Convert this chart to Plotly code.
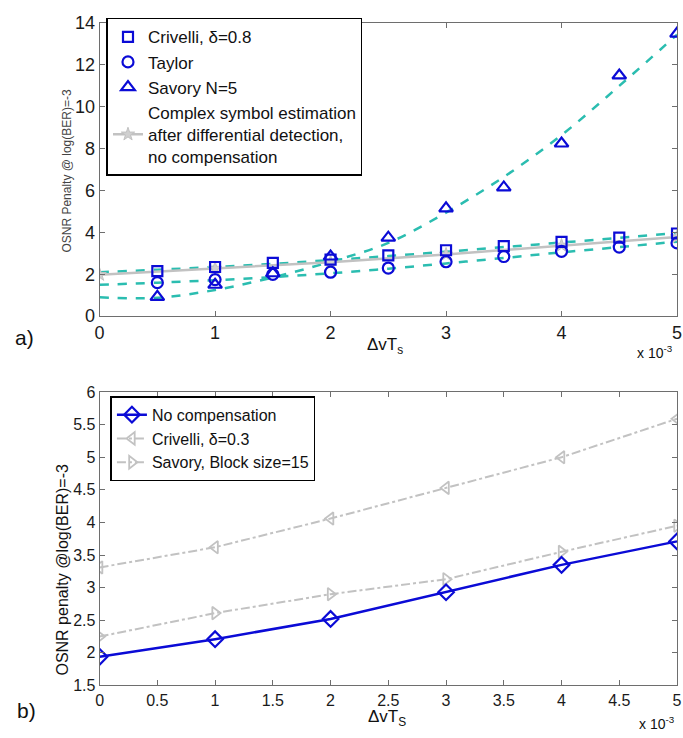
import plotly.graph_objects as go

# ---------------- panel a) data ----------------
x_meas = [0.5, 1.0, 1.5, 2.0, 2.5, 3.0, 3.5, 4.0, 4.5, 5.0]
crivelli_08 = [2.15, 2.35, 2.55, 2.7, 2.9, 3.15, 3.35, 3.55, 3.75, 3.95]
taylor = [1.6, 1.75, 2.0, 2.1, 2.3, 2.6, 2.85, 3.1, 3.3, 3.5]
savory_n5 = [0.92, 1.5, 2.05, 2.85, 3.75, 5.15, 6.15, 8.25, 11.5, 13.5]

x_cse = [0, 1, 2, 3, 4, 5]
cse_nocomp = [1.98, 2.28, 2.58, 2.95, 3.38, 3.78]

# dashed fitted curves
x_fit = [0.0, 0.5, 1.0, 1.5, 2.0, 2.5, 3.0, 3.5, 4.0, 4.5, 5.0]
fit_crivelli = [2.1, 2.22, 2.35, 2.5, 2.68, 2.87, 3.08, 3.3, 3.52, 3.74, 3.97]
fit_taylor = [1.5, 1.6, 1.72, 1.87, 2.05, 2.27, 2.52, 2.78, 3.05, 3.3, 3.56]
fit_savory = [0.9, 0.88, 1.25, 1.85, 2.6, 3.5, 4.95, 6.65, 8.65, 11.0, 13.45]

# ---------------- panel b) data ----------------
x_b = [0, 1, 2, 3, 4, 5]
no_comp = [1.94, 2.21, 2.52, 2.93, 3.35, 3.71]
crivelli_03 = [3.31, 3.62, 4.06, 4.53, 5.0, 5.59]
savory_bs15 = [2.25, 2.61, 2.9, 3.13, 3.55, 3.95]

xticks_a = [0, 1, 2, 3, 4, 5]
yticks_a = [0, 2, 4, 6, 8, 10, 12, 14]
xticks_b = [0, 0.5, 1, 1.5, 2, 2.5, 3, 3.5, 4, 4.5, 5]
yticks_b = [1.5, 2, 2.5, 3, 3.5, 4, 4.5, 5, 5.5, 6]

BLUE = "#0b0bd6"
CYAN = "#2bbdb0"
GRAY = "#c2c2c2"
FONT = "Liberation Sans, Arial, sans-serif"

W, H = 683, 738

def py(p):
    return 1 - p / H

fig = go.Figure()

# fitted dashed curves (panel a)
for yv in (fit_crivelli, fit_taylor, fit_savory):
    fig.add_trace(go.Scatter(x=x_fit, y=yv, mode="lines", line=dict(color=CYAN, width=2.5, dash="dash", shape="spline"),
                             showlegend=False, xaxis="x", yaxis="y", hoverinfo="skip"))

fig.add_trace(go.Scatter(x=x_cse, y=cse_nocomp, mode="lines+markers",
                         name="Complex symbol estimation<br>after differential detection,<br>no compensation",
                         line=dict(color=GRAY, width=2.5),
                         marker=dict(symbol="star", size=10, color="#d0d0d0", line=dict(color=GRAY, width=1)),
                         xaxis="x", yaxis="y", legend="legend", legendrank=4))
fig.add_trace(go.Scatter(x=x_meas, y=crivelli_08, mode="markers", name="Crivelli, δ=0.8",
                         marker=dict(symbol="square-open", size=10, color=BLUE, line=dict(width=2.2)),
                         xaxis="x", yaxis="y", legend="legend", legendrank=1))
fig.add_trace(go.Scatter(x=x_meas, y=taylor, mode="markers", name="Taylor",
                         marker=dict(symbol="circle-open", size=11, color=BLUE, line=dict(width=2.2)),
                         xaxis="x", yaxis="y", legend="legend", legendrank=2))
fig.add_trace(go.Scatter(x=x_meas, y=savory_n5, mode="markers", name="Savory N=5",
                         marker=dict(symbol="triangle-up-open", size=12, color=BLUE, line=dict(width=2.2)),
                         xaxis="x", yaxis="y", legend="legend", legendrank=3))

# panel b)
fig.add_trace(go.Scatter(x=x_b, y=crivelli_03, mode="lines+markers", name="Crivelli, δ=0.3",
                         line=dict(color=GRAY, width=2, dash="dashdot"),
                         marker=dict(symbol="triangle-left-open", size=11, color=GRAY, line=dict(width=1.8)),
                         xaxis="x2", yaxis="y2", legend="legend2", legendrank=2))
fig.add_trace(go.Scatter(x=x_b, y=savory_bs15, mode="lines+markers", name="Savory, Block size=15",
                         line=dict(color=GRAY, width=2, dash="dashdot"),
                         marker=dict(symbol="triangle-right-open", size=11, color=GRAY, line=dict(width=1.8)),
                         xaxis="x2", yaxis="y2", legend="legend2", legendrank=3))
fig.add_trace(go.Scatter(x=x_b, y=no_comp, mode="lines+markers", name="No compensation",
                         line=dict(color=BLUE, width=2.5),
                         marker=dict(symbol="diamond-open", size=12, color=BLUE, line=dict(width=2.2)),
                         xaxis="x2", yaxis="y2", legend="legend2", legendrank=1))


def axis_style(size):
    return dict(showgrid=False, zeroline=False, showline=True, linecolor="#6e6e6e", linewidth=1,
                mirror="ticks", ticks="inside", ticklen=5, tickcolor="#6e6e6e",
                ticklabeloverflow="allow",
                tickfont=dict(family=FONT, size=size, color="#1a1a1a"))


xd = [96 / W, 682 / W]
fig.update_layout(
    width=W, height=H, margin=dict(l=0, r=0, t=0, b=0),
    paper_bgcolor="white", plot_bgcolor="white",
    font=dict(family=FONT),
    xaxis=dict(domain=xd, range=[0, 5], tickvals=xticks_a, anchor="y", **axis_style(18)),
    yaxis=dict(domain=[py(314.7), py(13.5)], range=[0, 14], tickvals=yticks_a, anchor="x", **axis_style(18)),
    xaxis2=dict(domain=xd, range=[0, 5], tickvals=xticks_b, anchor="y2", **axis_style(16)),
    yaxis2=dict(domain=[py(694.3), py(392.7)], range=[1.5, 6], tickvals=yticks_b, anchor="x2", **axis_style(16)),
    legend=dict(x=103 / W, y=py(8), xanchor="left", yanchor="top", bgcolor="white",
                bordercolor="black", borderwidth=1.5, font=dict(family=FONT, size=17, color="#111"),
                tracegroupgap=0, traceorder="normal", itemwidth=30),
    legend2=dict(x=107 / W, y=py(397), xanchor="left", yanchor="top", bgcolor="white",
                 bordercolor="black", borderwidth=1.5, font=dict(family=FONT, size=16, color="#111"),
                 tracegroupgap=0, traceorder="normal", itemwidth=30),
)

ann = [
    dict(text="ΔvT<sub>s</sub>", x=386, y=345, size=17),
    dict(text="x 10<sup>-3</sup>", x=660, y=352, size=14),
    dict(text="a)", x=20, y=337, size=21),
    dict(text="ΔvT<sub>S</sub>", x=388, y=728, size=17),
    dict(text="x 10<sup>-3</sup>", x=662, y=733, size=14),
    dict(text="b)", x=22, y=720, size=21),
]
for a in ann:
    fig.add_annotation(text=a["text"], x=a["x"] / W, y=py(a["y"]), xref="paper", yref="paper",
                       showarrow=False, xanchor="center", yanchor="middle",
                       font=dict(family=FONT, size=a["size"], color="#111"))

fig.add_annotation(text="OSNR Penalty @ log(BER)=-3", x=62 / W, y=py(165), xref="paper", yref="paper",
                   showarrow=False, textangle=-90, xanchor="center", yanchor="middle",
                   font=dict(family=FONT, size=12, color="#444"))
fig.add_annotation(text="OSNR penalty @log(BER)=-3", x=58 / W, y=py(575), xref="paper", yref="paper",
                   showarrow=False, textangle=-90, xanchor="center", yanchor="middle",
                   font=dict(family=FONT, size=16, color="#111"))

fig.write_html("out.html")
